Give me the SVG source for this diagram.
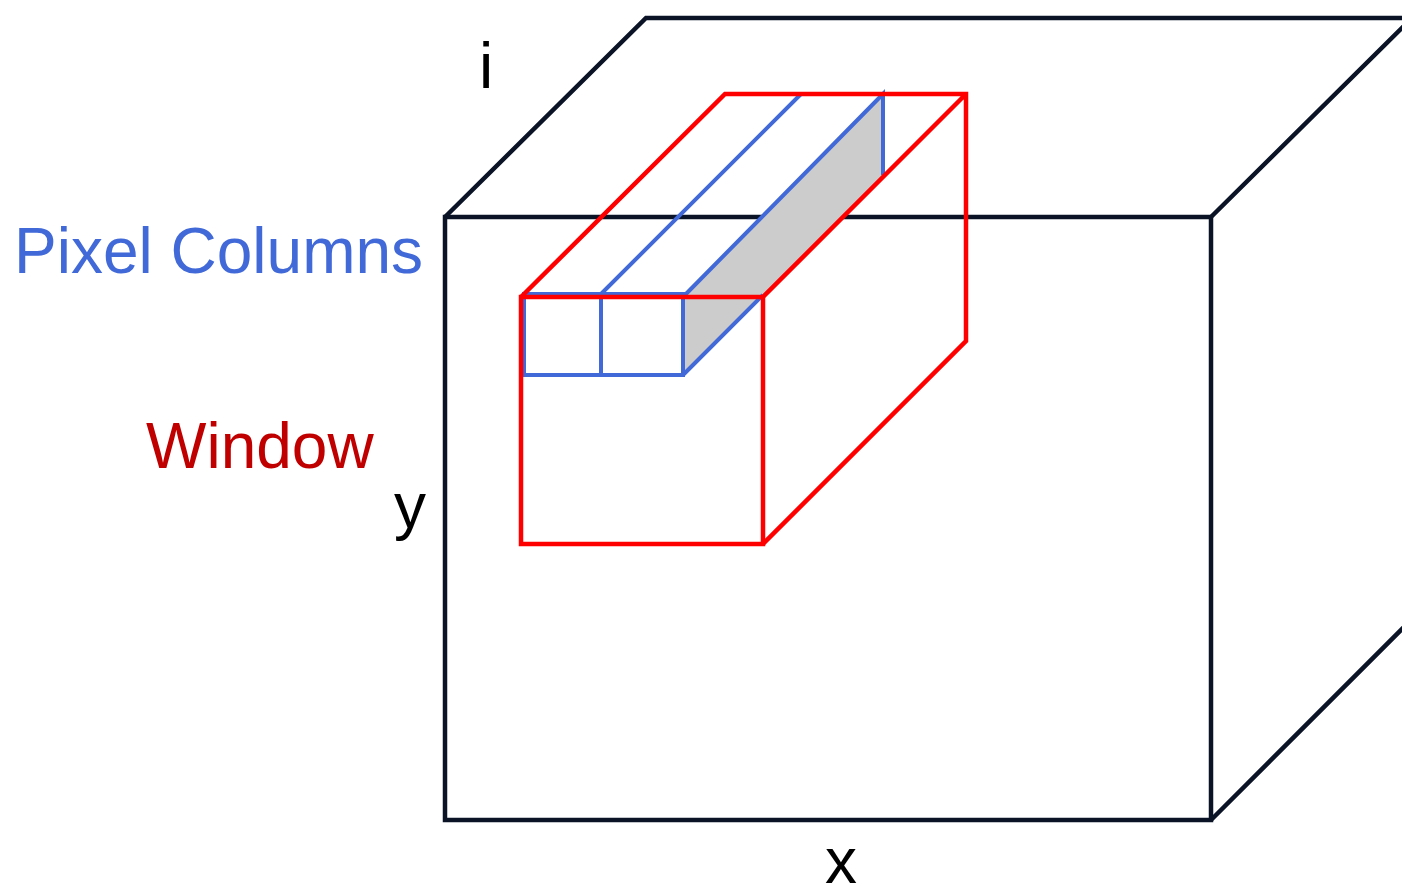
<svg xmlns="http://www.w3.org/2000/svg" width="1402" height="886" viewBox="0 0 1402 886">
<style>
.cube{fill:none;stroke:#0b1426;stroke-width:4.5;stroke-linejoin:miter}
.win{fill:none;stroke:#ff0000;stroke-width:4.5;stroke-linejoin:miter}
.col{fill:none;stroke:#4169d8;stroke-width:4}
.lbl{font-family:"Liberation Sans",Arial,sans-serif;font-size:64px}
</style>
<rect width="1402" height="886" fill="#ffffff"/>
<g id="cube">
<path class="cube" d="M445,217 L646,18 L1420,18 M1211,217 L1412,18 M1211,820 L1412,619"/>
<rect class="cube" x="445" y="217" width="766" height="603"/>
</g>
<g id="pixel-columns">
<polygon points="683,297 883,94 883,175 683,375" fill="#cccccc"/>
<path class="col" d="M683,297 L883,94 L883,175 M683,375 L763,295 M601,294 L801,94"/>
<rect class="col" x="524" y="294" width="159" height="81"/>
<line class="col" x1="601" y1="294" x2="601" y2="377"/>
</g>
<g id="window">
<rect class="win" x="521" y="297" width="242" height="247"/>
<path class="win" d="M521,297 L725,94 L966,94 L966,341 L763,544 M763,297 L966,94"/>
</g>
<g id="labels">
<text class="lbl" x="479" y="88" fill="#000000">i</text>
<text class="lbl" x="14" y="273" fill="#4169d8">Pixel Columns</text>
<text class="lbl" x="146" y="468" fill="#c00000">Window</text>
<text class="lbl" x="394" y="528" fill="#000000">y</text>
<text class="lbl" x="825" y="883" fill="#000000">x</text>
</g>
</svg>
